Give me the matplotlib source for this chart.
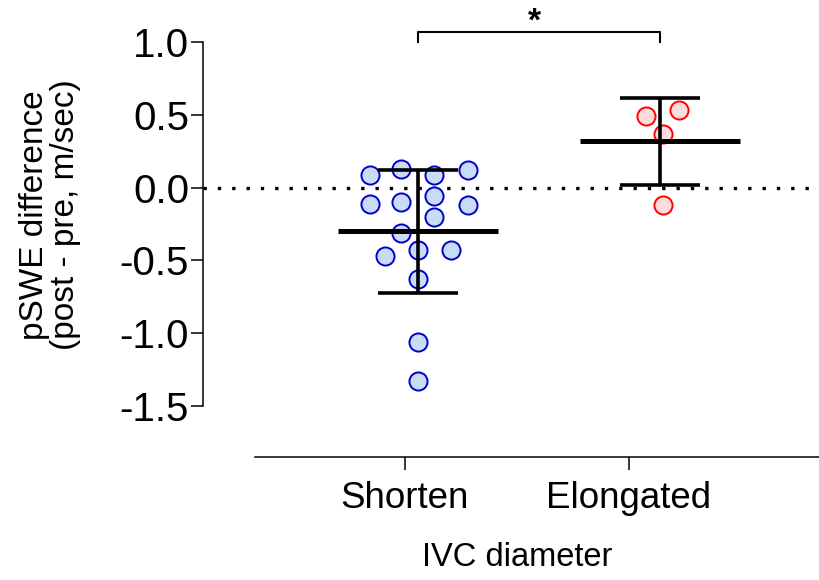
import numpy as np
import matplotlib
matplotlib.use("Agg")
import matplotlib.pyplot as plt

plt.rcParams['font.family'] = ['Liberation Sans', 'DejaVu Sans']

# data
categories = ['Shorten', 'Elongated']
shorten = [0.09, 0.13, 0.09, 0.12, -0.11, -0.10, -0.06, -0.12, -0.20,
           -0.31, -0.47, -0.43, -0.43, -0.63, -1.06, -1.33]
elongated = [0.49, 0.53, 0.37, -0.12]
yticks = [1.0, 0.5, 0.0, -0.5, -1.0, -1.5]

# horizontal scatter offsets (layout only)
shorten_dx = [-0.20, -0.068, 0.068, 0.205, -0.20, -0.068, 0.068, 0.205, 0.068,
              -0.068, -0.137, 0.0, 0.137, 0.0, 0.0, 0.0]
elongated_dx = [-0.058, 0.08, 0.012, 0.012]

W, H = 819, 580
fig = plt.figure(figsize=(W / 100, H / 100), dpi=100)
ax = fig.add_axes([203 / W, (H - 457) / H, (W - 203) / W, (457 - 5.6) / H])

groups = [(shorten, shorten_dx, '#0000cc', '#c8dcf5'),
          (elongated, elongated_dx, '#ff0000', '#ffdcdc')]
for i, (vals, dx, ec, fc) in enumerate(groups):
    vals = np.array(vals)
    ax.scatter(i + np.array(dx), vals, s=170, facecolor=fc, edgecolor=ec,
               linewidth=1.4, zorder=3)
    m, sd = vals.mean(), vals.std(ddof=1)
    ax.errorbar(i, m, yerr=sd, fmt='none', ecolor='black', elinewidth=2.6,
                capsize=29, capthick=2.6, zorder=4)
    ax.hlines(m, i - 0.33, i + 0.33, color='black', linewidth=3.6, zorder=5)

ax.axhline(0, color='black', linestyle=(0, (1, 3.3)), linewidth=2.4, zorder=1)

ax.set_xlim(-0.888, (W - 418) / 242)
ax.set_ylim(-1.85, 1.25)

# significance bracket
ax.plot([0, 0, 1, 1], [1.0, 1.069, 1.069, 1.0], color='black', lw=1.5,
        clip_on=False)
ax.text(0.48, 1.14, '*', ha='center', va='center', fontsize=24,
        fontweight='bold')

for s in ['top', 'right']:
    ax.spines[s].set_visible(False)
ax.spines['left'].set_bounds(-1.5, 1.0)
ax.spines['bottom'].set_bounds((255 - 418) / 242, (W - 418) / 242)
for s in ['left', 'bottom']:
    ax.spines[s].set_linewidth(1.1)

ax.set_yticks(yticks)
ax.set_yticklabels([f'{v:.1f}' for v in yticks], fontsize=29)
ax.set_xticks([(405 - 418) / 242, (629 - 418) / 242])
ax.set_xticklabels(categories, fontsize=26.5)
ax.tick_params(axis='y', length=9, width=1.1, pad=1)
ax.tick_params(axis='x', length=9, width=1.1, pad=8)

fig.text(50 / W, 1 - 215 / H, 'pSWE difference\n(post - pre, m/sec)',
         rotation=90, ha='center', va='center', fontsize=24,
         multialignment='center', linespacing=1.0)
fig.text(517 / W, 1 - 557 / H, 'IVC diameter', ha='center', va='center',
         fontsize=23.5)

fig.savefig('out.png', dpi=100)
